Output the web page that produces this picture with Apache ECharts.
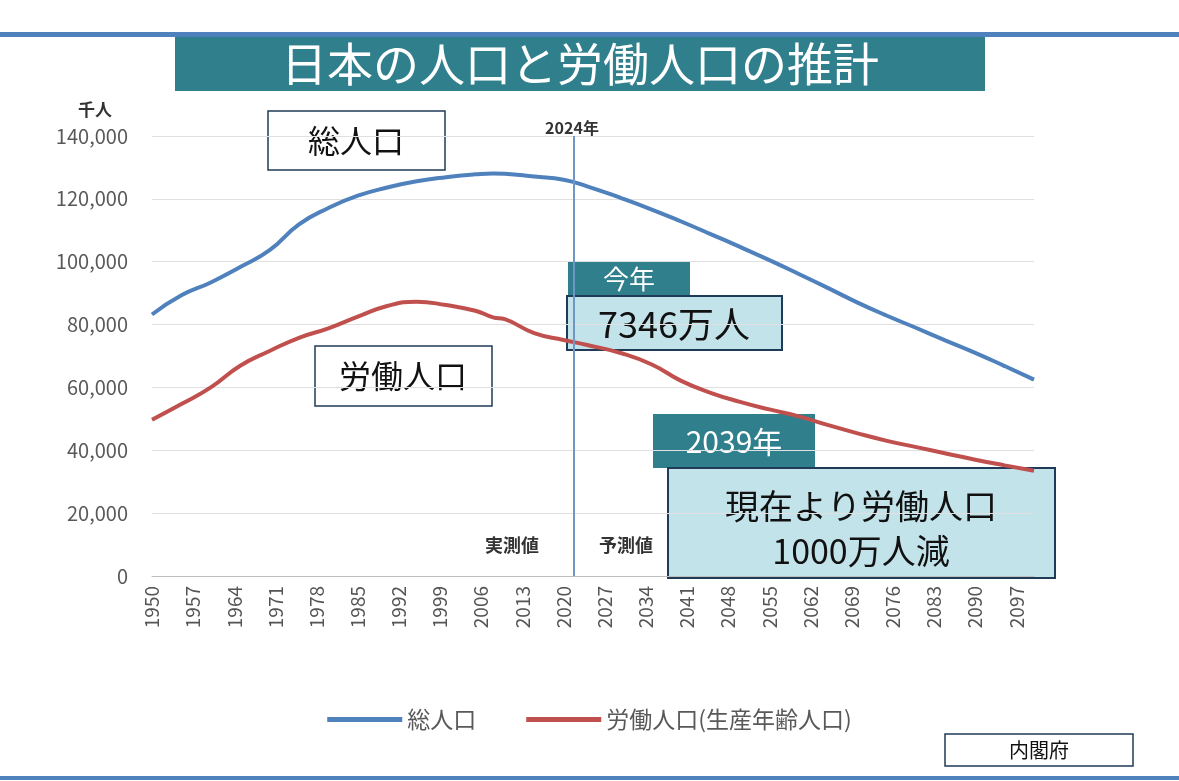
<!DOCTYPE html>
<html>
<head>
<meta charset="utf-8">
<script src="https://cdn.jsdelivr.net/npm/echarts@6/dist/echarts.min.js"></script>
<style>
  html, body { margin: 0; padding: 0; background: #fff; }
  #chart { width: 1179px; height: 781px; }
</style>
</head>
<body>
<div id="chart"></div>
<script>
const FONT = '"Noto Sans CJK JP", "Noto Sans", sans-serif';

// years of the sampled points
const years = [1950, 1955, 1960, 1965, 1970, 1975, 1980, 1985, 1990, 1995, 2000,
  2005, 2008, 2010, 2015, 2020, 2024, 2030, 2035, 2040, 2045, 2050, 2055, 2060,
  2065, 2070, 2075, 2080, 2085, 2090, 2095, 2100];
// total population (thousand)
const totalPop = [83200, 89300, 93400, 98300, 103700, 111900, 117100, 121000, 123600, 125600, 126900,
  127800, 128100, 128000, 127100, 126100, 124000, 120100, 116600, 112800, 108800, 104700, 100500, 96100,
  91600, 87000, 82800, 78900, 74900, 71000, 66800, 62500];
// working-age population 15-64 (thousand)
const workPop = [49700, 54700, 60000, 66900, 71600, 75800, 78800, 82500, 85900, 87300, 86200,
  84400, 82300, 81700, 77300, 75100, 73500, 70800, 67300, 62100, 58300, 55400, 53000, 50800,
  48000, 45400, 43000, 41000, 39000, 37000, 35200, 33500];
const yTicks = [0, 20000, 40000, 60000, 80000, 100000, 120000, 140000];
// divider between actual and projected values, as placed in the source picture
const dividerYear = 2021.7;

const toPairs = (vals) => vals.map((v, i) => [years[i], v]);

const teal = '#2f7f8d';
const lightTeal = '#c3e3ea';

const chart = echarts.init(document.getElementById('chart'));
chart.setOption({
  animation: false,
  grid: { left: 152, right: 145, top: 136, bottom: 205 },
  xAxis: {
    type: 'value',
    min: 1950, max: 2100, interval: 7,
    axisLine: { show: true, lineStyle: { color: '#bfbfbf' } },
    axisTick: { show: false },
    splitLine: { show: false },
    axisLabel: {
      rotate: 90, showMaxLabel: false, color: '#555',
      fontSize: 19, fontFamily: FONT, formatter: (v) => String(v), margin: 10
    }
  },
  yAxis: {
    type: 'value',
    min: yTicks[0], max: yTicks[yTicks.length - 1], interval: 20000,
    axisLine: { show: false },
    axisTick: { show: false },
    splitLine: { lineStyle: { color: '#e0e0e0' } },
    axisLabel: {
      color: '#595959', fontSize: 20, fontFamily: FONT, margin: 24,
      formatter: (v) => v.toLocaleString('en-US')
    }
  },
  legend: {
    bottom: 45, left: 'center', itemWidth: 75, itemHeight: 5, itemGap: 50,
    icon: 'rect',
    textStyle: { fontSize: 23, color: '#595959', fontFamily: FONT },
    data: ['総人口', '労働人口(生産年齢人口)']
  },
  series: [
    {
      name: '総人口', type: 'line', data: toPairs(totalPop), smooth: true,
      showSymbol: false, lineStyle: { width: 4, color: '#4f81bd' }, itemStyle: { color: '#4f81bd' },
      markLine: {
        silent: true, symbol: 'none', label: { show: false },
        lineStyle: { color: '#6f96c4', type: 'solid', width: 2 },
        data: [{ xAxis: dividerYear }]
      }
    },
    {
      name: '労働人口(生産年齢人口)', type: 'line', data: toPairs(workPop), smooth: true,
      showSymbol: false, lineStyle: { width: 4, color: '#c0504d' }, itemStyle: { color: '#c0504d' }
    }
  ],
  graphic: [
    { type: 'rect', shape: { x: 0, y: 32, width: 1179, height: 5 }, style: { fill: '#4f81bd' } },
    { type: 'rect', shape: { x: 0, y: 776, width: 1179, height: 4 }, style: { fill: '#4f81bd' } },
    { type: 'rect', shape: { x: 175, y: 37, width: 810, height: 54 }, style: { fill: teal } },
    { type: 'text', x: 580, y: 64, style: { text: '日本の人口と労働人口の推計', fill: '#fff', font: '46px ' + FONT, align: 'center', verticalAlign: 'middle' } },
    { type: 'text', x: 95, y: 110, style: { text: '千人', fill: '#333', font: 'bold 17px ' + FONT, align: 'center', verticalAlign: 'middle' } },
    { type: 'text', x: 572, y: 128, style: { text: '2024年', fill: '#333', font: 'bold 16px ' + FONT, align: 'center', verticalAlign: 'middle' } },
    { type: 'text', x: 512, y: 545, style: { text: '実測値', fill: '#333', font: 'bold 18px ' + FONT, align: 'center', verticalAlign: 'middle' } },
    { type: 'text', x: 626, y: 545, style: { text: '予測値', fill: '#333', font: 'bold 18px ' + FONT, align: 'center', verticalAlign: 'middle' } },
    { type: 'rect', shape: { x: 268, y: 111, width: 177, height: 59 }, style: { fill: '#fff', stroke: '#1f3b57', lineWidth: 1.5 } },
    { type: 'text', x: 356, y: 141, style: { text: '総人口', fill: '#111', font: '32px ' + FONT, align: 'center', verticalAlign: 'middle' } },
    { type: 'rect', shape: { x: 315, y: 346, width: 177, height: 60 }, style: { fill: '#fff', stroke: '#1f3b57', lineWidth: 1.5 } },
    { type: 'text', x: 403, y: 376, style: { text: '労働人口', fill: '#111', font: '32px ' + FONT, align: 'center', verticalAlign: 'middle' } },
    { type: 'rect', shape: { x: 568, y: 262, width: 122, height: 34 }, style: { fill: teal } },
    { type: 'text', x: 629, y: 279, style: { text: '今年', fill: '#fff', font: '26px ' + FONT, align: 'center', verticalAlign: 'middle' } },
    { type: 'rect', shape: { x: 567, y: 296, width: 215, height: 54 }, style: { fill: lightTeal, stroke: '#1f3b57', lineWidth: 2 } },
    { type: 'text', x: 674, y: 324, style: { text: '7346万人', fill: '#111', font: '36px ' + FONT, align: 'center', verticalAlign: 'middle' } },
    { type: 'rect', shape: { x: 653, y: 414, width: 162, height: 54 }, style: { fill: teal } },
    { type: 'text', x: 734, y: 442, style: { text: '2039年', fill: '#fff', font: '30px ' + FONT, align: 'center', verticalAlign: 'middle' } },
    { type: 'rect', shape: { x: 668, y: 468, width: 387, height: 110 }, style: { fill: lightTeal, stroke: '#1f3b57', lineWidth: 2 } },
    { type: 'text', x: 861, y: 506, style: { text: '現在より労働人口', fill: '#111', font: '34px ' + FONT, align: 'center', verticalAlign: 'middle' } },
    { type: 'text', x: 861, y: 551, style: { text: '1000万人減', fill: '#111', font: '34px ' + FONT, align: 'center', verticalAlign: 'middle' } },
    { type: 'rect', shape: { x: 945, y: 734, width: 188, height: 32 }, style: { fill: '#fff', stroke: '#1f3b57', lineWidth: 1.5 } },
    { type: 'text', x: 1039, y: 750, style: { text: '内閣府', fill: '#111', font: '20px ' + FONT, align: 'center', verticalAlign: 'middle' } }
  ]
});
</script>
</body>
</html>
